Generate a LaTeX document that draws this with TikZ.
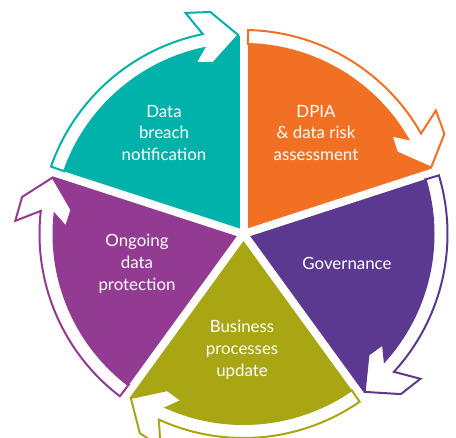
\documentclass[tikz,border=0pt]{standalone}
\usepackage{xcolor}
\usepackage{tikz}
\usepackage{fontspec}
\setmainfont{Lato}

\definecolor{breachteal}{RGB}{0,178,169}
\definecolor{dpiaorange}{RGB}{242,112,36}
\definecolor{govpurple}{RGB}{92,57,145}
\definecolor{ongoingmagenta}{RGB}{147,58,146}
\definecolor{bizolive}{RGB}{169,166,20}

\tikzset{
  sectortext/.style={text=white,align=center,font=\fontsize{9.6}{12.5}\selectfont},
  gapline/.style={white,line width=0.16cm},
  cyclearrow/.style={draw=#1,fill=white,line width=0.04cm,line join=miter},
}

\begin{document}
\begin{tikzpicture}[scale=0.02]
  \useasboundingbox (-243.5,-203) rectangle (212.5,234);
  \foreach \col/\a/\b in {breachteal/90/162,ongoingmagenta/162/234,bizolive/234/306,govpurple/306/378,dpiaorange/18/90}
    \fill[\col] (0,0) -- (\a:198) arc[start angle=\a,end angle=\b,radius=198] -- cycle;
  \foreach \b in {18,90,162,234,306}
    \draw[gapline] (0,0) -- (\b:200);
  \foreach \col/\s/\t in {breachteal/160.7/91.5,dpiaorange/88.7/19.5,govpurple/16.7/-52.5,bizolive/304.7/235.5,ongoingmagenta/232.7/163.5}
    \draw[cyclearrow=\col] (\s:190) -- (\s:204)
      arc[start angle=\s,end angle=\t+10,radius=204]
      -- ({\t+13.2}:228.6) -- ({\t+7}:224.5) -- (\t:199)
      -- ({\t+8.5}:173.7) -- ({\t+14.2}:177.7) -- ({\t+10.5}:190)
      arc[start angle=\t+10.5,end angle=\s,radius=190] -- cycle;
  \node[sectortext] (breach) at (-79.5,101) {Data\\breach\\notification};
  \node[sectortext] (dpia) at (72.5,101) {DPIA\\\& data risk\\assessment};
  \node[sectortext] (governance) at (103.5,-29) {Governance};
  \node[sectortext] (ongoing) at (-106.5,-30) {Ongoing\\data\\protection};
  \node[sectortext] (business) at (-1.5,-116) {Business\\processes\\update};
\end{tikzpicture}
\end{document}
